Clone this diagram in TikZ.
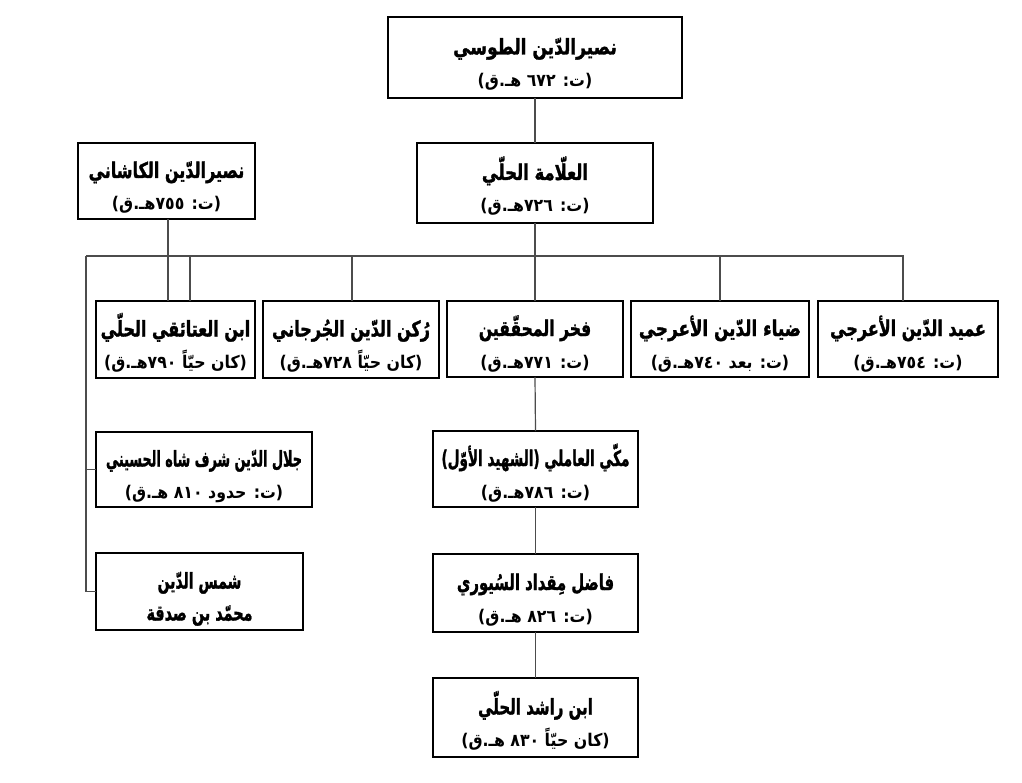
\documentclass[tikz,border=0pt]{standalone}
\usepackage{fontspec}
\TeXXeTstate=1
\newfontfamily\arabicfont[Script=Arabic]{DejaVu Sans}
\newfontfamily\arabicheavy[Script=Arabic,FakeBold=1.6]{DejaVu Sans}
\newcommand\namefnt{\arabicheavy\bfseries\fontsize{20}{32}\selectfont}
\newcommand\datefnt{\arabicfont\bfseries\fontsize{17.5}{32}\selectfont}
% [horizontal scale of name]{name}{date}
\newcommand\boxtext[3][0.8]{\raisebox{0pt}[28pt][0pt]{\namefnt\scalebox{#1}[1.08]{#2}}\\\raisebox{0pt}[10pt][2pt]{\datefnt\scalebox{0.9}[1]{#3}}}
\newcommand\boxtwo[4]{\raisebox{0pt}[28pt][0pt]{\namefnt\scalebox{#1}[1.08]{#2}}\\\raisebox{0pt}[10pt][2pt]{\namefnt\scalebox{#3}[1.08]{#4}}}
\tikzset{
  pbox/.style={draw=black, line width=2.4pt, fill=white, align=center,
    inner sep=1pt, outer sep=0pt, font=\fontsize{10}{32}\selectfont},
  link/.style={draw=black!70, line width=1.2pt}
}
\begin{document}
\begin{tikzpicture}[x=1pt,y=-1pt]
\useasboundingbox (0,0) rectangle (1022,783);
\fill[white] (0,0) rectangle (1022,783);
\node[pbox, minimum width=294pt, minimum height=81pt] (tusi) at (535,57.5)
  {\boxtext[0.85]{\beginR نصيرالدّين الطوسي\endR}{\beginR (ت: ٦٧٢ هـ.ق)\endR}};
\node[pbox, minimum width=177pt, minimum height=76pt] (kashani) at (166.5,181)
  {\boxtext{\beginR نصيرالدّين الكاشاني\endR}{\beginR (ت: ٧٥٥هـ.ق)\endR}};
\node[pbox, minimum width=236pt, minimum height=80pt] (allama) at (535,183)
  {\boxtext[0.82]{\beginR العلّامة الحلّي\endR}{\beginR (ت: ٧٢٦هـ.ق)\endR}};
\node[pbox, minimum width=159pt, minimum height=77pt] (ataiqi) at (175.5,339.5)
  {\boxtext{\beginR ابن العتائقي الحلّي\endR}{\beginR (كان حيّاً ٧٩٠هـ.ق)\endR}};
\node[pbox, minimum width=176pt, minimum height=77pt] (rukn) at (351,339.5)
  {\boxtext{\beginR رُكن الدّين الجُرجاني\endR}{\beginR (كان حيّاً ٧٢٨هـ.ق)\endR}};
\node[pbox, minimum width=176pt, minimum height=76pt] (fakhr) at (535,339)
  {\boxtext[0.78]{\beginR فخر المحقّقين\endR}{\beginR (ت: ٧٧١هـ.ق)\endR}};
\node[pbox, minimum width=178pt, minimum height=76pt] (diya) at (720,339)
  {\boxtext[0.84]{\beginR ضياء الدّين الأعرجي\endR}{\beginR (ت: بعد ٧٤٠هـ.ق)\endR}};
\node[pbox, minimum width=180pt, minimum height=76pt] (amid) at (908,339)
  {\boxtext{\beginR عميد الدّين الأعرجي\endR}{\beginR (ت: ٧٥٤هـ.ق)\endR}};
\node[pbox, minimum width=216pt, minimum height=75pt] (jalal) at (204,469.5)
  {\boxtext[0.64]{\beginR جلال الدّين شرف شاه الحسيني\endR}{\beginR (ت: حدود ٨١٠ هـ.ق)\endR}};
\node[pbox, minimum width=207pt, minimum height=77pt] (shams) at (199.5,591.5)
  {\boxtwo{0.7}{\beginR شمس الدّين\endR}{0.72}{\beginR محمّد بن صدقة\endR}};
\node[pbox, minimum width=205pt, minimum height=76pt] (makki) at (535.5,469)
  {\boxtext[0.68]{\beginR مكّي العاملي (الشهيد الأوّل)\endR}{\beginR (ت: ٧٨٦هـ.ق)\endR}};
\node[pbox, minimum width=205pt, minimum height=78pt] (fadil) at (535.5,593)
  {\boxtext[0.74]{\beginR فاضل مِقداد السُيوري\endR}{\beginR (ت: ٨٢٦ هـ.ق)\endR}};
\node[pbox, minimum width=205pt, minimum height=79pt] (rashid) at (535.5,717.5)
  {\boxtext[0.75]{\beginR ابن راشد الحلّي\endR}{\beginR (كان حيّاً ٨٣٠ هـ.ق)\endR}};
% bus coordinates
\coordinate (busL) at (86,256);
\coordinate (busR) at (903,256);
\coordinate (busC) at (535,256);
\coordinate (bA) at (190,256);
\coordinate (bR) at (352,256);
\coordinate (bD) at (720,256);
\coordinate (kA) at (168,219);
% connectors
\draw[link] (tusi.south) -- (allama.north);
\draw[link] (allama.south) -- (busC) -- (fakhr.north);
\draw[link] (busL) -- (busR) -- (busR |- amid.north);
\draw[link] (bA) -- (bA |- ataiqi.north);
\draw[link] (bR) -- (bR |- rukn.north);
\draw[link] (bD) -- (bD |- diya.north);
\draw[link] (kA) -- (kA |- ataiqi.north);
\draw[link] (busL) -- (busL |- shams.west) -- (shams.west);
\draw[link] (busL |- jalal.west) -- (jalal.west);
\draw[link] (fakhr.south) -- (makki.north);
\draw[link] (makki.south) -- (fadil.north);
\draw[link] (fadil.south) -- (rashid.north);
\end{tikzpicture}
\end{document}
